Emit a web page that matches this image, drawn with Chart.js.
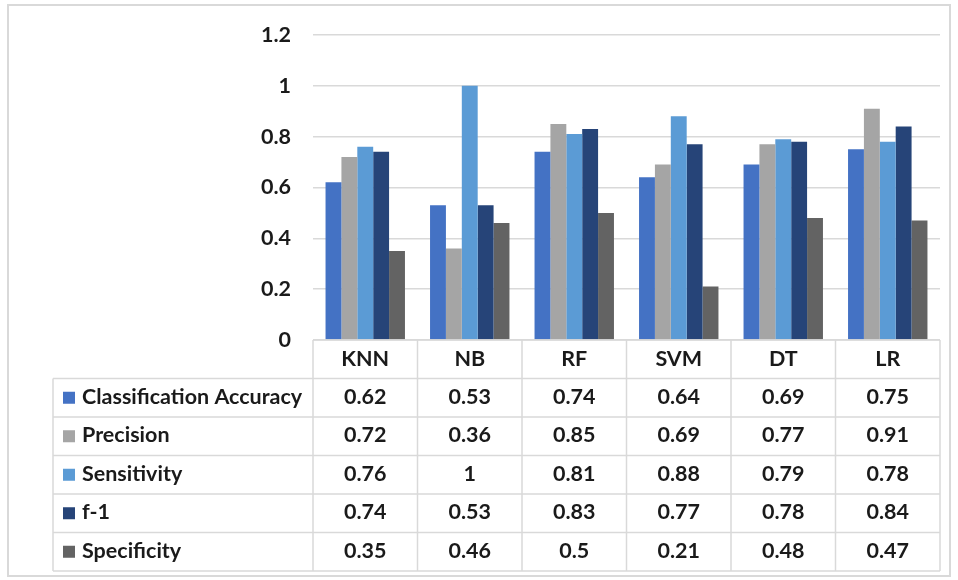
<!DOCTYPE html>
<html lang="en">
<head>
<meta charset="UTF-8">
<title>Classifier metrics</title>
<script src="https://cdn.jsdelivr.net/npm/chart.js"></script>
<style>
  html, body { margin: 0; padding: 0; background: #fff; }
  #wrap { width: 958px; height: 580px; position: relative; }
</style>
</head>
<body>
<div id="wrap"><canvas id="metrics" width="958" height="580"></canvas></div>
<script>
const categories = ['KNN', 'NB', 'RF', 'SVM', 'DT', 'LR'];
const seriesNames = ['Classification Accuracy', 'Precision', 'Sensitivity', 'f-1', 'Specificity'];
const accuracy    = [0.62, 0.53, 0.74, 0.64, 0.69, 0.75];
const precision   = [0.72, 0.36, 0.85, 0.69, 0.77, 0.91];
const sensitivity = [0.76, 1,    0.81, 0.88, 0.79, 0.78];
const f1          = [0.74, 0.53, 0.83, 0.77, 0.78, 0.84];
const specificity = [0.35, 0.46, 0.5,  0.21, 0.48, 0.47];
const yTicks = [0, 0.2, 0.4, 0.6, 0.8, 1, 1.2];

const colors = ['#4472C4', '#A5A5A5', '#5B9BD5', '#264478', '#636363'];
const seriesValues = [accuracy, precision, sensitivity, f1, specificity];

const FONT = 'Lato';
const FONT_SIZE = 21.5;
const TEXT = '#1a1a1a';
const LINE = '#d9d9d9';

// data table under the plot, drawn off the x scale
const dataTable = {
  id: 'dataTable',
  afterDraw(chart) {
    const ctx = chart.ctx;
    const xs = chart.scales.x;
    const area = chart.chartArea;
    const n = categories.length;
    const colW = (area.right - area.left) / n;
    const rowH = 38.5;
    const top = area.bottom;
    const labelLeft = 53;
    const rows = seriesNames.length;
    const bottom = top + rowH * (rows + 1);

    ctx.save();
    ctx.strokeStyle = LINE;
    ctx.lineWidth = 1.5;
    ctx.beginPath();
    // header row lines
    ctx.moveTo(area.left, top); ctx.lineTo(area.right, top);
    for (let r = 1; r <= rows + 1; r++) {
      const y = top + rowH * r;
      ctx.moveTo(labelLeft, y); ctx.lineTo(area.right, y);
    }
    for (let c = 0; c <= n; c++) {
      const x = area.left + colW * c;
      ctx.moveTo(x, top); ctx.lineTo(x, bottom);
    }
    ctx.moveTo(labelLeft, top + rowH); ctx.lineTo(labelLeft, bottom);
    ctx.stroke();

    ctx.fillStyle = TEXT;
    ctx.font = 'bold ' + FONT_SIZE + 'px ' + FONT;
    ctx.textBaseline = 'middle';
    ctx.textAlign = 'center';
    categories.forEach((c, i) => {
      ctx.fillText(c, xs.getPixelForValue(i), top + rowH / 2);
    });
    seriesNames.forEach((name, r) => {
      const cy = top + rowH * (r + 1.5) - 1;
      ctx.fillStyle = colors[r];
      ctx.fillRect(63, cy - 5, 12, 12);
      ctx.fillStyle = TEXT;
      ctx.textAlign = 'left';
      ctx.fillText(name, 82, cy);
      ctx.textAlign = 'center';
      seriesValues[r].forEach((v, i) => {
        ctx.fillText(String(v), xs.getPixelForValue(i), cy);
      });
    });
    ctx.restore();
  }
};

const outerBorder = {
  id: 'outerBorder',
  beforeDraw(chart) {
    const ctx = chart.ctx;
    ctx.save();
    ctx.strokeStyle = '#d9d9d9';
    ctx.lineWidth = 2;
    ctx.strokeRect(8, 5, 942, 571);
    ctx.restore();
  }
};

new Chart(document.getElementById('metrics'), {
  type: 'bar',
  data: {
    labels: categories,
    datasets: seriesNames.map((name, i) => ({
      label: name,
      data: seriesValues[i],
      backgroundColor: colors[i],
      borderWidth: 0,
      barPercentage: 1,
      categoryPercentage: 0.76
    }))
  },
  options: {
    responsive: false,
    animation: false,
    events: [],
    layout: { padding: { top: 34, right: 18, bottom: 240, left: 0 } },
    plugins: { legend: { display: false }, tooltip: { enabled: false } },
    scales: {
      x: { display: false },
      y: {
        min: 0,
        max: 1.2,
        afterFit(scale) { scale.width = 313; },
        afterBuildTicks(scale) { scale.ticks = yTicks.map(v => ({ value: v })); },
        border: { display: false },
        grid: { color: LINE, lineWidth: 1.5, drawTicks: false },
        ticks: {
          padding: 22,
          color: TEXT,
          font: { family: FONT, size: FONT_SIZE, weight: 'bold' },
          callback: v => String(Math.round(v * 10) / 10)
        }
      }
    }
  },
  plugins: [outerBorder, dataTable]
});
</script>
</body>
</html>
